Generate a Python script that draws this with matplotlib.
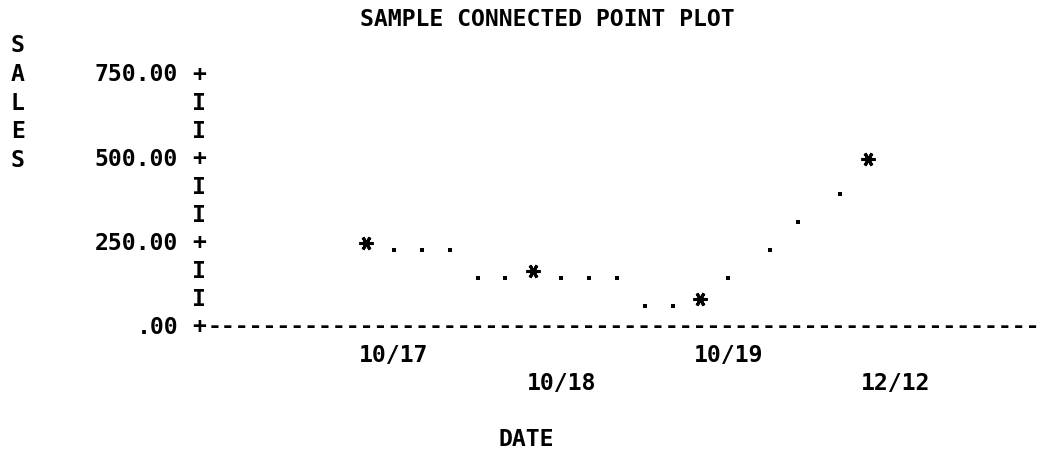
import matplotlib
matplotlib.use("Agg")
import matplotlib.pyplot as plt
import matplotlib.transforms as mtransforms
import numpy as np

# data
dates = ["10/17", "10/18", "10/19", "12/12"]
sales = [250, 170, 85, 500]
yticks = [0, 250, 500, 750]
title = "SAMPLE CONNECTED POINT PLOT"
xlabel = "DATE"
ylabel = "SALES"

# line-printer grid
W, H, DPI = 1043, 450, 100
CW = 13.93          # column width in px
RH = 28.0           # row height in px
PER_DATE = 12       # columns between two dates
ROW_UNITS = 250 / 3 # sales per printed row
X0 = 199            # px of the vertical axis column
Y0 = 327            # px (from top) of the zero row

fig = plt.figure(figsize=(W / DPI, H / DPI), dpi=DPI)
fig.patch.set_facecolor("white")
ax = fig.add_axes([X0 / W, 0, 1 - X0 / W, 1])
ax.set_xlim(-1, -1 + (W - X0) / CW / PER_DATE)
ax.set_ylim(-(H - Y0) * ROW_UNITS / RH, Y0 * ROW_UNITS / RH)
ax.axis("off")

mono = dict(family="DejaVu Sans Mono", weight="bold",
            size=CW / 0.602 * 72 / DPI, color="black")


def col(c):
    # printer column -> date position
    return c / PER_DATE - 1


def row(k):
    # printer row -> sales value
    return k * ROW_UNITS


def put(text, c_start, k, **kw):
    # text starting at column c_start on row k
    ax.text(col(c_start + (len(text) - 1) / 2), row(k), text,
            ha="center", va="center", **mono, **kw)


put(title, 12, 11)
ax.text(col(-13), row(8), "\n".join(ylabel), ha="center", va="center",
        linespacing=1.32, **mono)

# vertical axis
n_rows = int(round(max(yticks) / ROW_UNITS))
for k in range(n_rows + 1):
    put("+" if k % 3 == 0 else "I", 0, k)
for v in yticks:
    lab = f"{v:.2f}"
    if lab.startswith("0"):
        lab = lab[1:]
    put(lab, -1 - len(lab), v / ROW_UNITS)

# horizontal axis
put("-" * 60, 1, 0)
for i, d in enumerate(dates):
    put(d, PER_DATE + PER_DATE * i, -1 - (i % 2))
put(xlabel, 22, -4)

# connecting dots, one per printed cell
dot_x, dot_y = [], []
for i in range(len(sales) - 1):
    r0, r1 = sales[i] / ROW_UNITS, sales[i + 1] / ROW_UNITS
    if abs(r1 - r0) > PER_DATE / 4:
        lo, hi = sorted((round(r0), round(r1)))
        for r in range(lo + 1, hi):
            k = round(PER_DATE * (r - r0) / (r1 - r0))
            dot_x.append(i + k / PER_DATE)
            dot_y.append(r * ROW_UNITS)
    else:
        for k in range(2, PER_DATE, 2):
            r = r0 + (r1 - r0) * k / PER_DATE
            dot_x.append(i + k / PER_DATE)
            dot_y.append(round(r) * ROW_UNITS)

dot_tr = mtransforms.offset_copy(ax.transData, fig=fig, y=-7, units="dots")
ax.plot(dot_x, dot_y, linestyle="none", marker="s", ms=2.3,
        color="black", mew=0, transform=dot_tr)

# the points themselves, snapped to the nearest printed row
snapped = np.rint(np.array(sales) / ROW_UNITS) * ROW_UNITS
ax.plot(np.arange(len(sales)), snapped, linestyle="none",
        marker=(6, 2, 90), ms=10, mew=2.2, color="black")

fig.savefig("out.png", dpi=DPI, facecolor="white")
